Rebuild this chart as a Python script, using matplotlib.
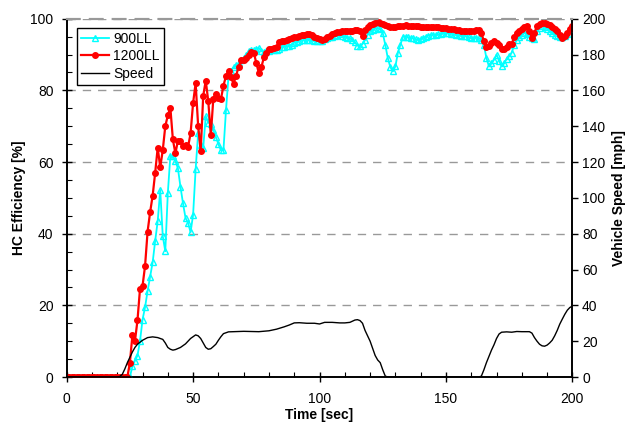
import matplotlib
matplotlib.use("Agg")
import matplotlib.pyplot as plt
import numpy as np

plt.rcParams['font.family'] = ['Liberation Sans', 'DejaVu Sans']
plt.rcParams['font.size'] = 10

# time base, one sample per second
time = np.arange(0, 201)

# HC efficiency [%], 1200LL
eff_1200 = [0] * 25 + [
    4, 11.7, 10, 15.8, 24.6, 25.4, 31, 40.6, 46, 50.6,            # 25-34
    57, 64, 58.5, 63.3, 70, 73, 75.2, 66.3, 62.4, 66,             # 35-44
    66, 64.6, 64.7, 64.2, 68, 76.5, 82, 70, 63, 78.5,             # 45-54
    82.7, 77, 67.5, 77.7, 79, 77.8, 77.5, 81.3, 84, 85.5,         # 55-64
    83.6, 81.8, 84.1, 86.5, 88.4, 88.5, 89, 89.8, 90.7, 90.5,     # 65-74
    87.6, 84.8, 86.5, 89.2, 90.5, 91.6, 91.6, 91.8, 92, 93.5,     # 75-84
    93.9, 93.9, 94, 94.3, 94.5, 95, 94.8, 95.3, 95.5, 95.5,       # 85-94
    95.8, 95.8, 95.5, 95, 94.6, 94.2, 94, 94.4, 95, 95.3,         # 95-104
    95.6, 96, 96.4, 96.4, 96.5, 96.6, 96.7, 96.7, 96.7, 96.8,     # 105-114
    96.8, 96.5, 95.3, 96.9, 97.6, 98.3, 98.6, 98.8, 99, 98.8,     # 115-124
    98.5, 98.3, 98, 97.8, 97.8, 97.8, 97.9, 98, 98.1, 98.3,       # 125-134
    98.1, 98, 98, 98.1, 98, 97.8, 97.8, 97.8, 97.8, 97.7,         # 135-144
    97.7, 97.7, 97.6, 97.5, 97.5, 97.4, 97.2, 97.1, 97, 96.9,     # 145-154
    96.8, 96.7, 96.6, 96.6, 96.6, 96.5, 96.6, 96.8, 96.9, 96,     # 155-164
    93.7, 92, 92.5, 93.2, 93.8, 93.2, 92.7, 91.6, 91.6, 92,       # 165-174
    92.9, 92.9, 95, 96, 96.6, 97.2, 97.6, 98.1, 96.6, 94.6,       # 175-184
    96, 98.1, 98.6, 98.8, 98.8, 98.5, 98.2, 97.6, 97.2, 96.6,     # 185-194
    95.5, 94.6, 95.1, 96, 97.2, 98.1,                             # 195-200
]

# HC efficiency [%], 900LL
eff_900 = [0] * 26 + [
    3, 4.5, 6, 10, 16, 19.5, 24, 28, 32,                          # 26-34
    38, 43.5, 52.2, 39.3, 35.1, 51.3, 61.7, 61.7, 60.4, 58.2,     # 35-44
    53.1, 48.5, 44.4, 43, 40.4, 45.3, 58, 68.1, 64.7, 64,         # 45-54
    72.8, 71, 70.7, 69, 67, 65, 63.3, 63.3, 74.4, 84,             # 55-64
    85.5, 86.5, 87, 87.5, 88.5, 89, 90, 91, 91.3, 91.3,           # 65-74
    91.6, 91.8, 91, 90.8, 90.9, 91, 91.2, 91.3, 91.3, 91.5,       # 75-84
    92, 92.2, 92.3, 92.3, 92.8, 93.3, 93.6, 93.8, 94, 94,         # 85-94
    94.1, 94.1, 94, 93.8, 93.7, 93.7, 93.8, 94.2, 94.6, 95,       # 95-104
    95, 95.2, 95.5, 95.6, 95.3, 95, 94.7, 94.6, 94, 93.4,         # 105-114
    92.5, 92.3, 93, 94, 95.5, 96.5, 96.9, 97.2, 97.4, 97,         # 115-124
    96, 92.7, 89, 86.5, 85.3, 86.7, 90.5, 92.7, 95, 95,           # 125-134
    94.8, 94.6, 94.6, 94.3, 94.1, 94.3, 94.6, 95, 95.3, 95.4,     # 135-144
    95.5, 95.5, 95.6, 95.8, 96, 96, 95.9, 95.8, 95.6, 95.5,       # 145-154
    95.4, 95.3, 95.3, 95.1, 94.8, 94.6, 94.6, 94.7, 94.6, 94,     # 155-164
    92.7, 89, 86.7, 87.5, 88.5, 90, 88.3, 86.7, 87.5, 88.8,       # 165-174
    89.5, 90.5, 92.7, 94, 95, 95.5, 96, 95.6, 95, 94.6,           # 175-184
    94.4, 96.5, 97.4, 97.9, 97.6, 97.2, 96.5, 96, 95.5, 95.2,     # 185-194
    94.9, 95, 95.3, 95.8, 97, 97.9,                               # 195-200
]

# vehicle speed [mph]
speed_t = [0, 20, 21, 22, 23, 24, 25, 26, 27, 28, 30, 32, 34, 36, 38, 39, 40,
           41, 42, 43, 45, 47, 49, 51, 52, 53, 54, 55, 56, 57, 58, 59, 60, 61,
           62, 64, 70, 76, 80, 83, 86, 88, 90, 92, 95, 98, 100, 102, 105, 108,
           110, 112, 114, 115, 116, 117, 118, 119, 120, 121, 122, 123, 124,
           125, 126, 127, 163, 164, 165, 166, 167, 168, 169, 170, 171, 172,
           174, 176, 178, 180, 183, 184, 185, 186, 187, 188, 189, 190, 191,
           192, 193, 194, 195, 196, 197, 198, 199, 200]
speed = [0, 0, 0.3, 1.5, 4.5, 8, 11, 14, 16.5, 18.3, 20.5, 22, 22.4, 22, 21,
         19, 16.5, 15.5, 15, 15.3, 16.5, 18.5, 21.5, 23.5, 23, 21.5, 19, 16.5,
         15.5, 15.8, 17, 18.3, 20.5, 22.5, 24.2, 25.2, 25.5, 25.3, 25.8, 26.7,
         28, 29, 30.2, 30.3, 30, 30, 29.6, 30.5, 30.5, 30.2, 30.2, 30.5, 31.8,
         32, 31.5, 30, 26, 23, 20, 16, 12, 9.5, 8, 4, 0.5, 0, 0, 0.5, 4, 8,
         11.5, 15, 18, 21.5, 24, 25, 25.2, 25, 25.4, 25.3, 25.3, 24.5, 22, 20,
         18.3, 17.4, 17.2, 17.8, 19, 20.5, 23, 26, 29.5, 32.3, 35, 37.3, 38.8,
         39.6]

fig = plt.figure(figsize=(6.29, 4.29), dpi=100)
ax = fig.add_axes([0.106, 0.1212, 0.804, 0.8352])
ax2 = ax.twinx()

l1, = ax.plot(time, eff_900, color='#00FFFF', lw=1.3, marker='^', ms=5,
              mfc='none', mec='#00FFFF', mew=1.0, label='900LL', zorder=3)
l2, = ax.plot(time, eff_1200, color='#FF0000', lw=1.6, marker='o', ms=4,
              label='1200LL', zorder=4)
l3, = ax2.plot(speed_t, speed, color='black', lw=1.0, label='Speed')

ax.set_xlim(0, 200)
ax.set_ylim(0, 100)
ax2.set_ylim(0, 200)
ax.set_xticks(np.arange(0, 201, 50))
ax.set_xticks(np.arange(0, 201, 10), minor=True)
ax.set_yticks(np.arange(0, 101, 20))
ax.set_yticks(np.arange(0, 101, 5), minor=True)
ax2.set_yticks(np.arange(0, 201, 20))

ax.tick_params(which='major', direction='inout', length=7, width=1, pad=6)
ax.tick_params(which='minor', direction='in', length=3.5, width=0.8)
ax.tick_params(axis='x', pad=7)
ax2.tick_params(which='major', direction='out', length=4, width=1, pad=3)

ax.grid(axis='y', which='major', color='#999999', ls=(0, (6, 5)), lw=1)
for a in (ax, ax2):
    a.spines['top'].set_color('#999999')
    a.spines['top'].set_linestyle((0, (6, 5)))
    a.spines['top'].set_linewidth(1.5)
    a.spines['left'].set_linewidth(1.2)
    a.spines['right'].set_linewidth(1.2)
    a.spines['bottom'].set_linewidth(1.2)

ax.set_xlabel('Time [sec]', fontweight='bold', labelpad=2)
ax.set_ylabel('HC Efficiency [%]', fontweight='bold', labelpad=3)
ax2.set_ylabel('Vehicle Speed [mph]', fontweight='bold', labelpad=5)

leg = ax2.legend(handles=[l1, l2, l3], loc='upper left',
                 bbox_to_anchor=(0.02, 0.975), fancybox=False,
                 edgecolor='black', framealpha=1, handlelength=2.0,
                 borderpad=0.3, labelspacing=0.25, handletextpad=0.3,
                 borderaxespad=0)
leg.get_frame().set_linewidth(1.0)

fig.savefig('out.png', dpi=100)
